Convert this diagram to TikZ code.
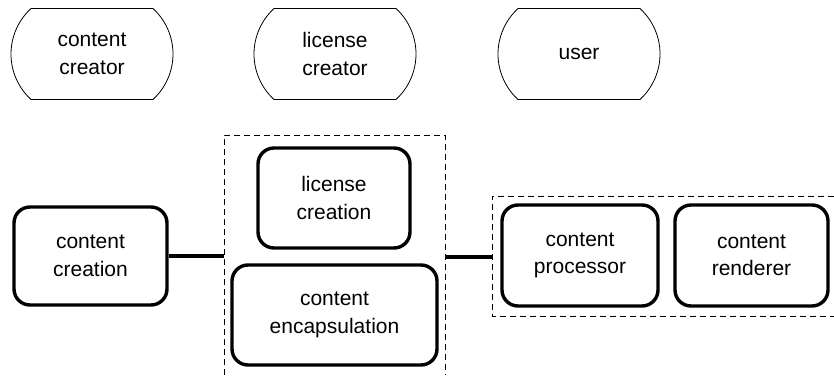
\documentclass[tikz,border=0pt]{standalone}
\usepackage{fontspec}
\setmainfont{Liberation Sans}
\usetikzlibrary{calc}
\begin{document}
\begin{tikzpicture}[x=1pt,y=1pt,
  lbl/.style={align=center,font=\fontsize{21}{27.5}\selectfont,inner sep=0pt},
  procbox/.style={lbl,draw,line width=3.4pt,rounded corners=16pt},
  grp/.style={line width=0.8pt,dash pattern=on 6pt off 4pt},
  conn/.style={line width=3.2pt}]
\useasboundingbox (0,0) rectangle (834,375);
% actor outline: flat top and bottom, arced sides
\newcommand{\actorshape}[1]{%
  \draw[line width=0.8pt] ($(#1)+(-61,45.5)$) -- ($(#1)+(61,45.5)$)
    arc[start angle=47.5,end angle=-47.5,radius=61.7]
    -- ($(#1)+(-61,-45.5)$)
    arc[start angle=227.5,end angle=132.5,radius=61.7] -- cycle;}
\node[lbl] (cc) at (92,321) {content\\creator};
\node[lbl] (lc) at (335,321) {license\\creator};
\node[lbl] (us) at (579,321) {user};
\actorshape{cc}
\actorshape{lc}
\actorshape{us}
% processes
\node[procbox,minimum width=153pt,minimum height=98pt] (cre) at (90.5,119) {content\\creation};
\node[procbox,minimum width=152pt,minimum height=100pt] (lcr) at (334,177) {license\\creation};
\node[procbox,minimum width=205pt,minimum height=100pt] (enc) at (334.5,60) {content\\encapsulation};
\node[procbox,minimum width=156pt,minimum height=101pt] (pro) at (580,119.5) {content\\processor};
\node[procbox,minimum width=153pt,minimum height=101pt] (ren) at (751.5,119.5) {content\\renderer};
% groups
\draw[grp] (224,0) -- (224,240) -- (445,240) -- (445,0);
\draw[grp] (834,179) -- (492,179) -- (492,59) -- (834,59);
\coordinate (g1w) at (224,119);
\coordinate (g1e) at (445,118);
\coordinate (g2w) at (492,118);
% connectors
\draw[conn] (cre.east) -- (g1w);
\draw[conn] (g1e) -- (g2w);
\end{tikzpicture}
\end{document}
